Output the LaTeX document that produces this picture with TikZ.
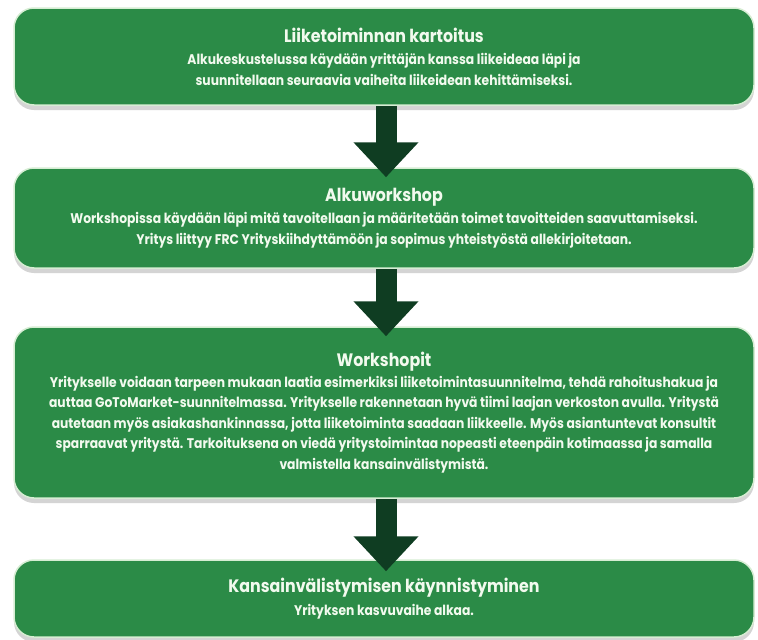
\documentclass[tikz,border=0pt]{standalone}
\usepackage{fontspec}
\setmainfont{Poppins}[FakeStretch=0.88]
\usetikzlibrary{arrows.meta,shadows}
\definecolor{boxgreen}{HTML}{2B8B47}
\definecolor{boxedge}{HTML}{D6EDD3}
\definecolor{txt}{HTML}{F2FAEE}
\definecolor{arrowgreen}{HTML}{0F3D22}
\tikzset{
  stagebox/.style={rounded corners=20pt, fill=boxgreen, draw=boxedge, line width=1.5pt,
    minimum width=740pt, align=center, text=txt, inner sep=0pt,
    font=\bfseries\fontsize{14}{20.5}\selectfont,
    drop shadow={shadow xshift=0pt, shadow yshift=-5pt, opacity=0.28, fill=black!60}},
  bigarrow/.style={draw=arrowgreen, line width=21pt,
    -{Triangle[length=35pt,width=63pt]}, arrowgreen},
}
\newcommand{\ttl}[1]{{\fontsize{18}{20}\selectfont #1}}
\begin{document}
\begin{tikzpicture}[x=1pt,y=1pt]
\useasboundingbox (0,0) rectangle (758,-640);
\fill[white] (0,0) rectangle (758,-640);
\node[stagebox, minimum height=97pt] (b1) at (384,-56.5)
  {\ttl{Liiketoiminnan kartoitus}\\[2pt]
   Alkukeskustelussa käydään yrittäjän kanssa liikeideaa läpi ja\\
   suunnitellaan seuraavia vaiheita liikeidean kehittämiseksi.};
\node[stagebox, minimum height=100pt] (b2) at (384,-218)
  {\ttl{Alkuworkshop}\\[2pt]
   Workshopissa käydään läpi mitä tavoitellaan ja määritetään toimet tavoitteiden saavuttamiseksi.\\
   Yritys liittyy FRC Yrityskiihdyttämöön ja sopimus yhteistyöstä allekirjoitetaan.};
\node[stagebox, minimum height=171pt] (b3) at (384,-412.5)
  {\ttl{Workshopit}\\[0pt]
   Yritykselle voidaan tarpeen mukaan laatia esimerkiksi liiketoimintasuunnitelma, tehdä rahoitushakua ja\\
   auttaa GoToMarket-suunnitelmassa. Yritykselle rakennetaan hyvä tiimi laajan verkoston avulla. Yritystä\\
   autetaan myös asiakashankinnassa, jotta liiketoiminta saadaan liikkeelle. Myös asiantuntevat konsultit\\
   sparraavat yritystä. Tarkoituksena on viedä yritystoimintaa nopeasti eteenpäin kotimaassa ja samalla\\
   valmistella kansainvälistymistä.};
\node[stagebox, minimum height=77pt] (b4) at (384,-598.5)
  {\ttl{Kansainvälistymisen käynnistyminen}\\[2pt]
   Yrityksen kasvuvaihe alkaa.};
\draw[bigarrow] ([xshift=2pt]b1.south) -- ([xshift=2pt,yshift=-10pt]b2.north);
\draw[bigarrow] ([xshift=2pt]b2.south) -- ([xshift=2pt,yshift=-10pt]b3.north);
\draw[bigarrow] ([xshift=2pt]b3.south) -- ([xshift=2pt,yshift=-12pt]b4.north);
\end{tikzpicture}
\end{document}
